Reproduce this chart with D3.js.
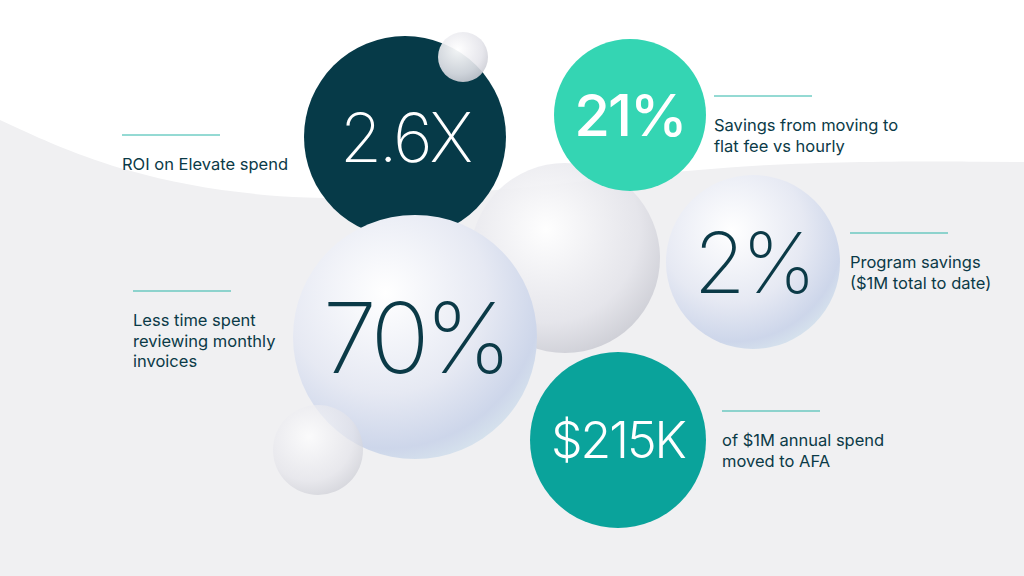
<!DOCTYPE html>
<html><head><meta charset="utf-8">
<script src="https://cdn.jsdelivr.net/npm/d3@7"></script>
<style>body{margin:0;background:#fff}svg{display:block;font-family:Inter,"Noto Sans",sans-serif}</style>
</head><body><svg id="chart"></svg>
<script>
// stat values and captions
const statValues = ["2.6X", "21%", "2%", "70%", "$215K"];
const statCaptions = [
  ["ROI on Elevate spend"],
  ["Savings from moving to", "flat fee vs hourly"],
  ["Program savings", "($1M total to date)"],
  ["Less time spent", "reviewing monthly", "invoices"],
  ["of $1M annual spend", "moved to AFA"]
];
const statKinds = ["dark", "mint", "pearl", "pearl", "teal"];

// layout (bubble centre, radius, caption anchor, font)
const layout = [
  {cx: 405, cy: 137, r: 101, tx: 122, ty: 135, fs: 68, fw: 200, ls: -3},
  {cx: 630, cy: 115, r: 76, tx: 714, ty: 96, fs: 58, fw: 500, ls: -2},
  {cx: 753, cy: 262, r: 87, tx: 850, ty: 233, fs: 84, fw: 200, ls: -4},
  {cx: 415, cy: 337, r: 122, tx: 133, ty: 291, fs: 98, fw: 200, ls: -5},
  {cx: 618, cy: 440, r: 88, tx: 722, ty: 411, fs: 50, fw: 300, ls: -2}
];
const decorBack = [{cx: 565, cy: 258, r: 95}];
const decorFront = [{cx: 318, cy: 450, r: 45, o: 0.75}, {cx: 463, cy: 57, r: 25, o: 1}];
const fills = {dark: "#063a48", mint: "#34d5b3", teal: "#0aa39b", pearl: "url(#pearl)"};
const textFill = {dark: "#ffffff", mint: "#ffffff", teal: "#ffffff", pearl: "#0b3a47"};

const W = 1024, H = 576;
const svg = d3.select("#chart").attr("width", W).attr("height", H);
const defs = svg.append("defs");
const g1 = defs.append("radialGradient").attr("id", "pearl").attr("cx", "38%").attr("cy", "32%").attr("r", "75%");
g1.append("stop").attr("offset", "0%").attr("stop-color", "#ffffff");
g1.append("stop").attr("offset", "55%").attr("stop-color", "#e6e9f3");
g1.append("stop").attr("offset", "85%").attr("stop-color", "#cdd6ea");
g1.append("stop").attr("offset", "100%").attr("stop-color", "#d9e6ee");
const g2 = defs.append("radialGradient").attr("id", "glass").attr("cx", "40%").attr("cy", "35%").attr("r", "70%");
g2.append("stop").attr("offset", "0%").attr("stop-color", "#ffffff").attr("stop-opacity", 0.95);
g2.append("stop").attr("offset", "70%").attr("stop-color", "#e4e4ea").attr("stop-opacity", 0.9);
g2.append("stop").attr("offset", "100%").attr("stop-color", "#c9cad2").attr("stop-opacity", 0.9);

// grey wave background
const wave = d3.line().curve(d3.curveBasis);
svg.append("path")
  .attr("d", wave([[0,120],[120,175],[300,205],[520,190],[760,160],[1024,162]]) + `L${W},${H}L0,${H}Z`)
  .attr("fill", "#f0f0f2");

svg.selectAll(".decor-back").data(decorBack).join("circle")
  .attr("class", "decor-back")
  .attr("cx", d => d.cx).attr("cy", d => d.cy).attr("r", d => d.r)
  .attr("fill", "url(#glass)");

const stats = statValues.map((v, i) => ({value: v, caption: statCaptions[i], kind: statKinds[i], ...layout[i]}));

const bub = svg.selectAll(".stat").data(stats).join("g").attr("class", "stat");
bub.append("circle")
  .attr("cx", d => d.cx).attr("cy", d => d.cy).attr("r", d => d.r)
  .attr("fill", d => fills[d.kind]);
bub.append("text")
  .attr("x", d => d.cx).attr("y", d => d.cy)
  .attr("text-anchor", "middle").attr("dominant-baseline", "central")
  .attr("font-size", d => d.fs).attr("font-weight", d => d.fw)
  .attr("letter-spacing", d => d.ls)
  .attr("fill", d => textFill[d.kind])
  .text(d => d.value);

svg.selectAll(".decor-front").data(decorFront).join("circle")
  .attr("class", "decor-front")
  .attr("cx", d => d.cx).attr("cy", d => d.cy).attr("r", d => d.r)
  .attr("fill", "url(#glass)").attr("opacity", d => d.o);

// captions with rule line
const cap = svg.selectAll(".cap").data(stats).join("g").attr("class", "cap");
cap.append("line")
  .attr("x1", d => d.tx).attr("x2", d => d.tx + 98)
  .attr("y1", d => d.ty).attr("y2", d => d.ty)
  .attr("stroke", "#2bb5a8").attr("stroke-width", 1);
cap.append("text")
  .attr("font-size", 16.5).attr("fill", "#0b3a47")
  .selectAll("tspan").data(d => d.caption.map((t, j) => ({t, x: d.tx, y: d.ty + 35 + j * 20.5})))
  .join("tspan").attr("x", d => d.x).attr("y", d => d.y).text(d => d.t);
</script></body></html>
